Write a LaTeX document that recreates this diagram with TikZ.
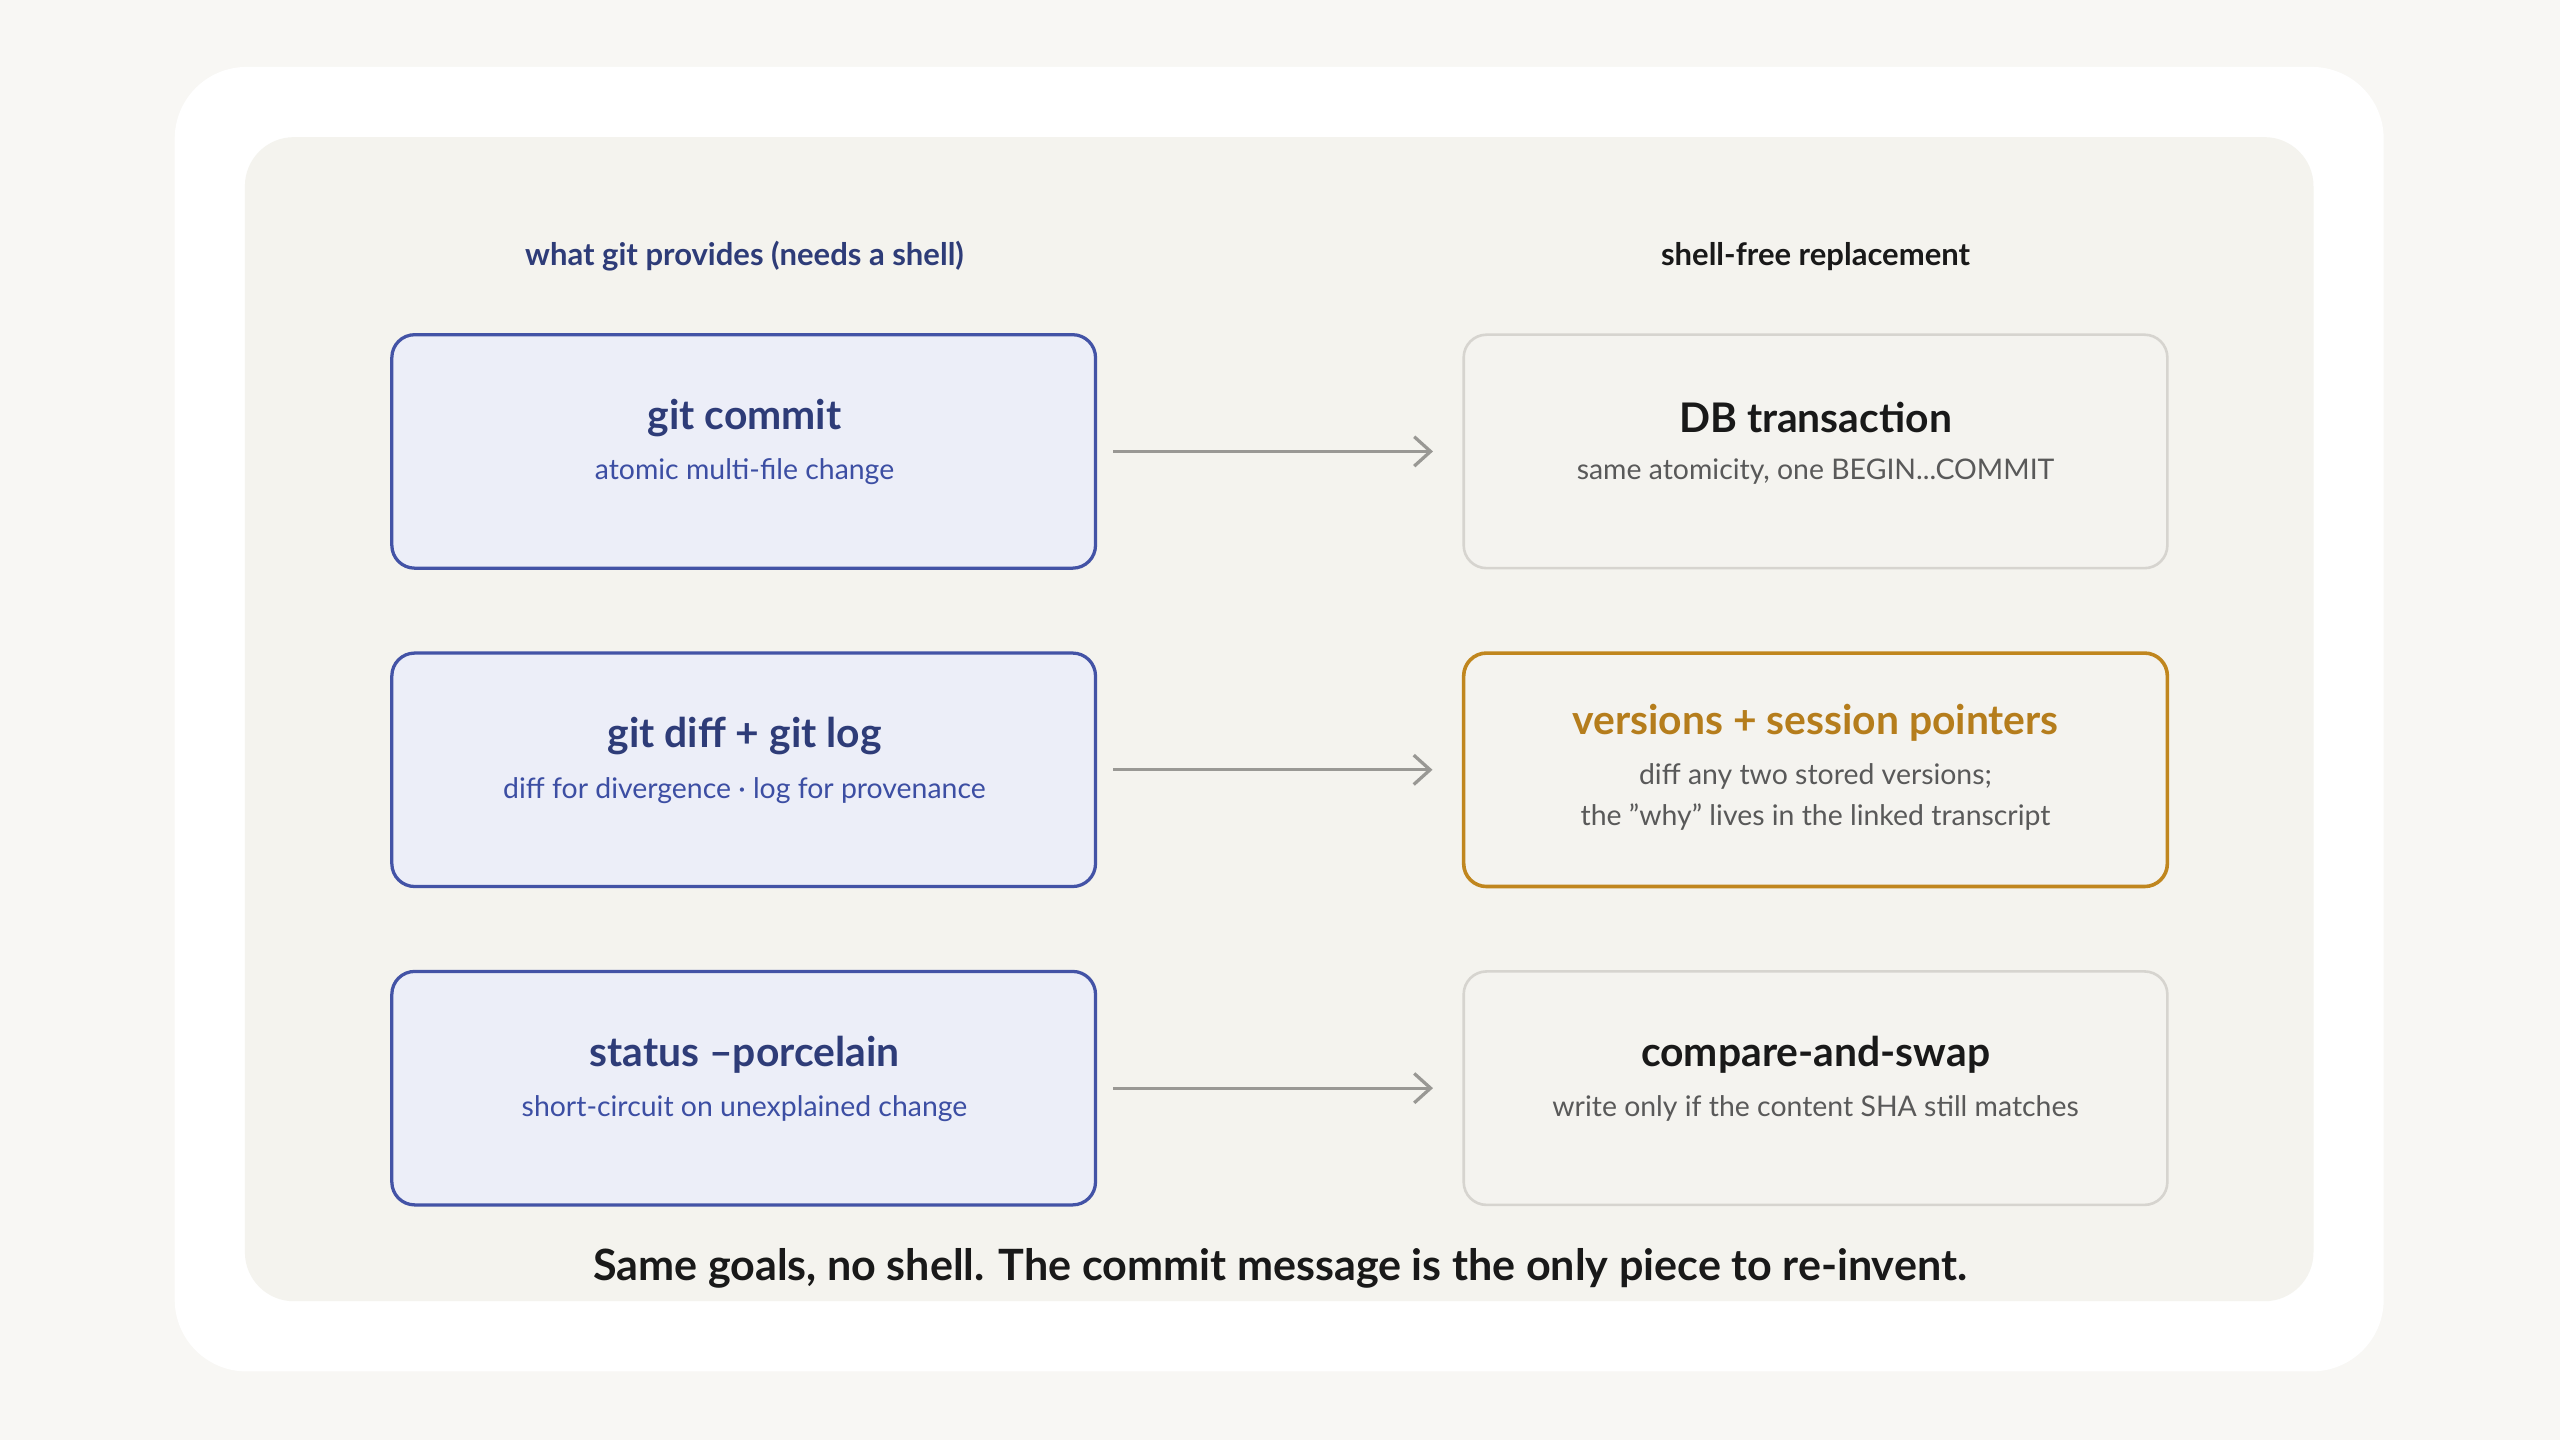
\documentclass[tikz,border=0pt]{standalone}
\usepackage{fontspec}
\setmainfont{Lato}
\usetikzlibrary{arrows.meta}
\definecolor{bgc}{HTML}{F8F7F4}
\definecolor{panel}{HTML}{F4F3EE}
\definecolor{lfill}{HTML}{ECEEF8}
\definecolor{lborder}{HTML}{4353A6}
\definecolor{ltitle}{HTML}{2E3C78}
\definecolor{lsub}{HTML}{3C4EA3}
\definecolor{rborder}{HTML}{D6D4CF}
\definecolor{rfill}{HTML}{F4F3EF}
\definecolor{obord}{HTML}{C0861E}
\definecolor{otitle}{HTML}{B57D1C}
\definecolor{arr}{HTML}{999894}
\begin{document}
\begin{tikzpicture}[x=0.5pt,y=-0.5pt,
 lbox/.style={draw=lborder,fill=lfill,line width=1pt,rounded corners=7pt,minimum width=215.5pt,minimum height=71.5pt},
 rbox/.style={draw=rborder,fill=rfill,line width=0.8pt,rounded corners=7pt,minimum width=215.5pt,minimum height=71.5pt},
 obox/.style={draw=obord,fill=rfill,line width=1.1pt,rounded corners=7pt,minimum width=215.5pt,minimum height=71.5pt},
 ttl/.style={font=\bfseries\fontsize{12.5}{15}\selectfont},
 sub/.style={font=\fontsize{8.7}{12.5}\selectfont,align=center},
 hdr/.style={font=\bfseries\fontsize{9.5}{12}\selectfont},
 conn/.style={draw=arr,line width=1pt,-{Straight Barb[length=5pt,width=9pt]}}]
\fill[bgc] (0,0) rectangle (1568,882);
\useasboundingbox (0,0) rectangle (1568,882);
\fill[white,rounded corners=22pt] (107,41) rectangle (1460,840);
\fill[panel,rounded corners=15pt] (150,84) rectangle (1417,797);
\node[hdr,text=ltitle] (h1) at (456,157) {what git provides (needs a shell)};
\node[hdr,text=black!90] (h2) at (1112,157) {shell-free replacement};
\node[lbox] (l1) at (455.5,276.5) {};
\node[lbox] (l2) at (455.5,471.5) {};
\node[lbox] (l3) at (455.5,666.5) {};
\node[rbox] (r1) at (1112,276.5) {};
\node[obox] (r2) at (1112,471.5) {};
\node[rbox] (r3) at (1112,666.5) {};
\node[ttl,text=ltitle] (t1) at (456,256) {git commit};
\node[sub,text=lsub] (s1) at (456,289) {atomic multi-file change};
\node[ttl,text=ltitle] (t2) at (456,451) {git diff + git log};
\node[sub,text=lsub] (s2) at (456,484) {diff for divergence · log for provenance};
\node[ttl,text=ltitle] (t3) at (456,646) {status --porcelain};
\node[sub,text=lsub] (s3) at (456,679) {short-circuit on unexplained change};
\node[ttl,text=black!90] (u1) at (1112,256) {DB transaction};
\node[sub,text=black!65] (v1) at (1112,289) {same atomicity, one BEGIN...COMMIT};
\node[ttl,text=otitle] (u2) at (1112,443) {versions + session pointers};
\node[sub,text=black!65] (v2) at (1112,488) {diff any two stored versions;\\the "why" lives in the linked transcript};
\node[ttl,text=black!90] (u3) at (1112,646) {compare-and-swap};
\node[sub,text=black!65] (v3) at (1112,679) {write only if the content SHA still matches};
\draw[conn] ([xshift=5pt]l1.east) -- ([xshift=-9pt]r1.west);
\draw[conn] ([xshift=5pt]l2.east) -- ([xshift=-9pt]r2.west);
\draw[conn] ([xshift=5pt]l3.east) -- ([xshift=-9pt]r3.west);
\node[font=\bfseries\fontsize{13.2}{16}\selectfont,text=black!90] (foot) at (784,777) {Same goals, no shell. The commit message is the only piece to re-invent.};
\end{tikzpicture}
\end{document}
